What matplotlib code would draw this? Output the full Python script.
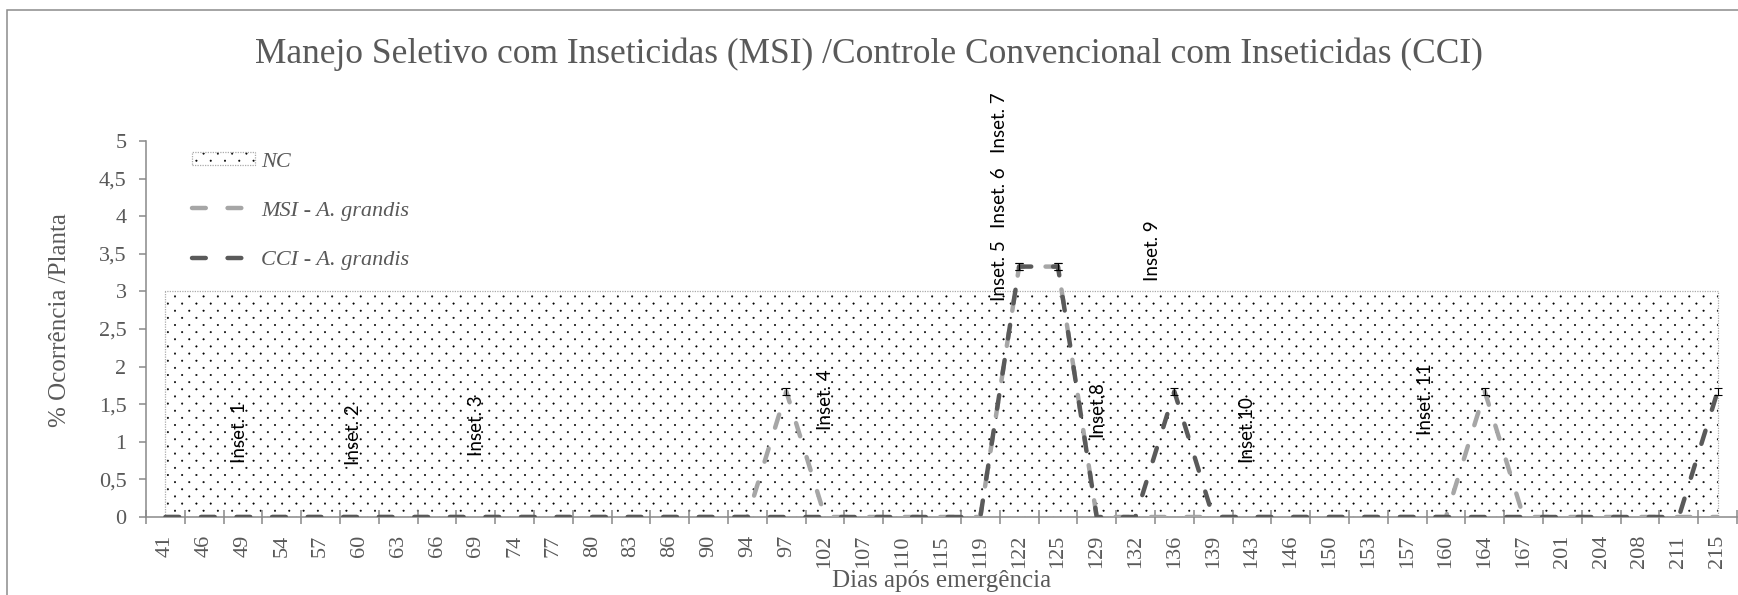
import numpy as np
import matplotlib
matplotlib.use('Agg')
import matplotlib.pyplot as plt
import matplotlib.hatch as mhatch
from matplotlib.path import Path
from matplotlib.patches import Patch, Rectangle
from matplotlib.lines import Line2D

# ---------------- data ----------------
days = [41, 46, 49, 54, 57, 60, 63, 66, 69, 74, 77, 80, 83, 86, 90, 94, 97, 102,
        107, 110, 115, 119, 122, 125, 129, 132, 136, 139, 143, 146, 150, 153,
        157, 160, 164, 167, 201, 204, 208, 211, 215]
msi = [0, 0, 0, 0, 0, 0, 0, 0, 0, 0, 0, 0, 0, 0, 0, 0, 1.67, 0,
       0, 0, 0, 0, 3.33, 3.33, 0, 0, 0, 0, 0, 0, 0, 0,
       0, 0, 1.67, 0, 0, 0, 0, 0, 0]
cci = [0, 0, 0, 0, 0, 0, 0, 0, 0, 0, 0, 0, 0, 0, 0, 0, 0, 0,
       0, 0, 0, 0, 3.33, 3.33, 0, 0, 1.67, 0, 0, 0, 0, 0,
       0, 0, 0, 0, 0, 0, 0, 0, 1.67]
msi_err = [0, 0, 0, 0, 0, 0, 0, 0, 0, 0, 0, 0, 0, 0, 0, 0, 0.05, 0,
           0, 0, 0, 0, 0.05, 0.05, 0, 0, 0, 0, 0, 0, 0, 0,
           0, 0, 0.05, 0, 0, 0, 0, 0, 0]
cci_err = [0, 0, 0, 0, 0, 0, 0, 0, 0, 0, 0, 0, 0, 0, 0, 0, 0, 0,
           0, 0, 0, 0, 0.05, 0.05, 0, 0, 0.05, 0, 0, 0, 0, 0,
           0, 0, 0, 0, 0, 0, 0, 0, 0.05]
nc = [3, 3, 3, 3, 3, 3, 3, 3, 3, 3, 3, 3, 3, 3, 3, 3, 3, 3, 3, 3, 3,
      3, 3, 3, 3, 3, 3, 3, 3, 3, 3, 3, 3, 3, 3, 3, 3, 3, 3, 3, 3]
ytick_vals = [0, 0.5, 1, 1.5, 2, 2.5, 3, 3.5, 4, 4.5, 5]
ytick_labels = ['0', '0,5', '1', '1,5', '2', '2,5', '3', '3,5', '4', '4,5', '5']
inset_labels = ['Inset. 1', 'Inset. 2', 'Inset. 3', 'Inset. 4', 'Inset. 5',
                'Inset. 6', 'Inset. 7', 'Inset.8', 'Inset. 9', 'Inset.10',
                'Inset. 11']
series_labels = ['NC', 'MSI - A. grandis', 'CCI - A. grandis']
title = 'Manejo Seletivo com Inseticidas (MSI) /Controle Convencional com Inseticidas (CCI)'
xlabel = 'Dias após emergência'
ylabel = '% Ocorrência /Planta'

# annotation placement (category index, y value)
inset_pos = [(1.92, 1.12), (4.86, 1.10), (8.02, 1.21), (17.0, 1.56),
             (21.5, 3.28), (21.5, 4.25), (21.5, 5.25), (24.0, 1.44),
             (25.43, 3.54), (27.84, 1.17), (32.48, 1.57)]


# ---------------- custom staggered dot hatch ----------------
class StaggeredDots(mhatch.HatchPatternBase):
    radius = 0.0075

    def __init__(self, hatch, density):
        n = hatch.count('.')
        self.nx = 7 * n
        self.ny = 14 * n
        circ = Path.unit_circle()
        self.sv = circ.vertices
        self.sc = circ.codes
        self.num_vertices = self.nx * self.ny * len(self.sv)

    def set_vertices_and_codes(self, vertices, codes):
        nv = len(self.sv)
        k = 0
        for row in range(self.ny):
            yy = (row + 0.5) / self.ny
            shift = 0.25 if row % 2 == 0 else 0.75
            for col in range(self.nx):
                xx = (col + shift) / self.nx
                vertices[k:k + nv] = self.sv * self.radius + (xx, yy)
                codes[k:k + nv] = self.sc
                k += nv


mhatch._hatch_types[:] = [t for t in mhatch._hatch_types
                          if t is not mhatch.SmallFilledCircles] + [StaggeredDots]
plt.rcParams['hatch.linewidth'] = 0.35
plt.rcParams['hatch.color'] = 'black'

SERIF = ['Liberation Serif', 'DejaVu Serif']
SANS = ['Lato', 'DejaVu Sans']
TXT = '#595959'
AXC = '#898989'
LIGHT = '#A6A6A6'
DARK = '#5A5A5A'

W, H = 1738, 595
fig = plt.figure(figsize=(W / 100, H / 100), dpi=100)
ax = fig.add_axes([146 / W, 78 / H, (1737 - 146) / W, (517 - 141) / H])

x = np.arange(len(days))

# NC area: hatch fill + dotted border
ax.fill_between(x, 0, nc, facecolor='white', hatch='.', linewidth=0, zorder=1)
ax.fill_between(x, 0, nc, facecolor='none', edgecolor='#ABABAB',
                linestyle=(0, (1, 1)), linewidth=0.9, zorder=1.5)

lw = 3.2
dash = (0, (3.1, 4.9))
ax.plot(x, msi, color=LIGHT, lw=lw, linestyle=dash, dash_capstyle='round',
        zorder=4)
ax.plot(x, cci, color=DARK, lw=lw, linestyle=dash, dash_capstyle='round',
        zorder=4.5)

for vals, errs in ((msi, msi_err), (cci, cci_err)):
    sel = [i for i, e in enumerate(errs) if e > 0]
    ax.errorbar([x[i] for i in sel], [vals[i] for i in sel],
                yerr=[errs[i] for i in sel], fmt='none', ecolor='black',
                elinewidth=0.8, capsize=2.8, capthick=0.8, zorder=6)

# axes styling
ax.set_xlim(-0.5, len(days) - 0.5)
ax.set_ylim(0, 5)
for s in ('top', 'right'):
    ax.spines[s].set_visible(False)
for s in ('left', 'bottom'):
    ax.spines[s].set_color(AXC)
    ax.spines[s].set_linewidth(1.1)
    ax.spines[s].set_zorder(3)

ax.set_yticks(ytick_vals)
ax.set_yticklabels(ytick_labels, family=SERIF, fontsize=16, color=TXT)
ax.tick_params(axis='y', direction='out', length=5, width=1.1, color=AXC,
               pad=9)

ax.set_xticks(np.arange(-0.5, len(days), 1))
ax.set_xticklabels([])
ax.set_xticks(x, minor=True)
ax.set_xticklabels([str(d) for d in days], minor=True, rotation=90,
                   family=SERIF, fontsize=16, color=TXT)
ax.tick_params(axis='x', which='major', direction='inout', length=10,
               width=1.1, color=AXC)
ax.tick_params(axis='x', which='minor', length=0, pad=13)

# inset annotations
for lab, (px, py) in zip(inset_labels, inset_pos):
    ax.text(px, py, lab, rotation=90, ha='center', va='center',
            family=SANS, fontsize=13.5, color='black', clip_on=False,
            zorder=7)

# titles
fig.text(0.5, (H - 63) / H, title, ha='center', va='baseline',
         family=SERIF, fontsize=25.5, color=TXT)
fig.text(941.5 / W, (H - 581) / H, xlabel, ha='center', va='center',
         family=SERIF, fontsize=18, color=TXT)
fig.text(60 / W, (H - 320.5) / H, ylabel, ha='center', va='center',
         rotation=90, family=SERIF, fontsize=18, color=TXT)

# legend
nc_handle = (Patch(facecolor='white', hatch='.', linewidth=0),
             Patch(facecolor='none', edgecolor='#ABABAB',
                   linestyle=(0, (1, 1)), linewidth=0.9))
msi_handle = Line2D([], [], color=LIGHT, lw=lw, linestyle=dash,
                    dash_capstyle='round')
cci_handle = Line2D([], [], color=DARK, lw=lw, linestyle=dash,
                    dash_capstyle='round')
leg = ax.legend([nc_handle, msi_handle, cci_handle], series_labels,
                loc='upper left', bbox_to_anchor=(191.7 / W, (H - 152) / H),
                bbox_transform=fig.transFigure, frameon=False,
                borderpad=0, borderaxespad=0, handlelength=2.84,
                handleheight=0.55, handletextpad=0.3, labelspacing=1.33,
                prop={'family': SERIF, 'style': 'italic', 'size': 16})
for t in leg.get_texts():
    t.set_color(TXT)

# outer chart border
fig.add_artist(Rectangle((7.5 / W, -0.1), 1.2, (H - 9.5) / H + 0.1,
                         transform=fig.transFigure, fill=False,
                         edgecolor='#8C8C8C', linewidth=1.1))

fig.savefig('out.png', dpi=100)
